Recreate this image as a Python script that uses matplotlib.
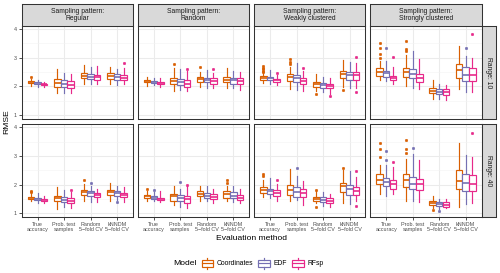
import matplotlib
matplotlib.use("Agg")
import matplotlib.pyplot as plt
from matplotlib.patches import Rectangle, Patch
from matplotlib.lines import Line2D
from matplotlib.legend_handler import HandlerBase

plt.rcParams['font.family'] = ['Liberation Sans', 'DejaVu Sans']

# ---------------- data ----------------
methods = ["True\naccuracy", "Prob. test\nsamples", "Random\n5\u2212fold CV", "kNNDM\n5\u2212fold CV"]
models = ["Coordinates", "EDF", "RFsp"]
colors = ["#D95F02", "#7570B3", "#E7298A"]
patterns = ["Sampling pattern:\nRegular", "Sampling pattern:\nRandom",
            "Sampling pattern:\nWeakly clustered", "Sampling pattern:\nStrongly clustered"]
ranges = ["Range: 10", "Range: 40"]

# each stat: rows = methods, cols = models (Coordinates, EDF, RFsp)
# Range 10 / Regular
reg10_med = [[2.15, 2.12, 2.07], [2.12, 2.09, 2.05], [2.37, 2.34, 2.33], [2.36, 2.34, 2.30]]
reg10_q1 = [[2.12, 2.09, 2.05], [1.99, 1.99, 1.95], [2.28, 2.26, 2.24], [2.26, 2.24, 2.22]]
reg10_q3 = [[2.18, 2.15, 2.10], [2.26, 2.22, 2.19], [2.45, 2.42, 2.40], [2.45, 2.42, 2.40]]
reg10_lo = [[2.03, 1.98, 1.97], [1.76, 1.76, 1.76], [2.10, 2.07, 2.07], [2.10, 2.05, 2.07]]
reg10_hi = [[2.25, 2.22, 2.15], [2.59, 2.48, 2.43], [2.74, 2.69, 2.70], [2.69, 2.60, 2.63]]
reg10_out = {(0, 0): [2.32], (3, 2): [2.83]}

# Range 10 / Random
ran10_med = [[2.20, 2.17, 2.13], [2.20, 2.16, 2.10], [2.26, 2.23, 2.19], [2.24, 2.22, 2.19]]
ran10_q1 = [[2.16, 2.13, 2.10], [2.07, 2.05, 1.99], [2.16, 2.14, 2.10], [2.14, 2.10, 2.07]]
ran10_q3 = [[2.24, 2.20, 2.17], [2.31, 2.26, 2.22], [2.33, 2.31, 2.28], [2.33, 2.30, 2.28]]
ran10_lo = [[2.03, 2.05, 1.98], [1.84, 1.86, 1.84], [1.97, 1.95, 1.93], [1.93, 1.93, 1.87]]
ran10_hi = [[2.32, 2.30, 2.28], [2.65, 2.60, 2.55], [2.51, 2.57, 2.45], [2.63, 2.53, 2.51]]
ran10_out = {(1, 0): [2.78], (1, 2): [2.60], (2, 0): [2.66], (2, 2): [2.62]}

# Range 10 / Weakly clustered
wea10_med = [[2.30, 2.28, 2.21], [2.33, 2.28, 2.19], [2.08, 2.05, 2.02], [2.42, 2.40, 2.40]]
wea10_q1 = [[2.24, 2.22, 2.16], [2.19, 2.14, 2.07], [1.99, 1.95, 1.93], [2.28, 2.24, 2.22]]
wea10_q3 = [[2.35, 2.33, 2.27], [2.42, 2.40, 2.30], [2.16, 2.13, 2.10], [2.55, 2.51, 2.49]]
wea10_lo = [[2.12, 2.10, 2.04], [1.91, 1.87, 1.84], [1.84, 1.81, 1.75], [1.99, 1.95, 1.93]]
wea10_hi = [[2.45, 2.57, 2.38], [2.69, 2.80, 2.55], [2.43, 2.34, 2.28], [2.92, 2.86, 2.80]]
wea10_out = {(0, 0): [2.50, 2.55, 2.60, 2.65, 2.70], (0, 2): [2.46],
             (1, 0): [2.77, 2.86, 2.94], (1, 2): [2.63],
             (2, 0): [1.73], (2, 2): [1.67],
             (3, 0): [1.88], (3, 2): [3.02, 1.81]}

# Range 10 / Strongly clustered
str10_med = [[2.51, 2.45, 2.30], [2.51, 2.43, 2.31], [1.85, 1.81, 1.79], [2.57, 2.40, 2.40]]
str10_q1 = [[2.37, 2.34, 2.22], [2.34, 2.28, 2.16], [1.76, 1.72, 1.70], [2.31, 2.20, 2.20]]
str10_q3 = [[2.63, 2.55, 2.37], [2.65, 2.60, 2.44], [1.95, 1.91, 1.90], [2.77, 2.66, 2.65]]
str10_lo = [[2.24, 2.20, 2.08], [2.01, 1.93, 1.91], [1.56, 1.56, 1.52], [1.91, 1.81, 1.81]]
str10_hi = [[2.88, 2.88, 2.69], [3.09, 3.23, 2.95], [2.22, 2.07, 2.05], [3.41, 3.05, 3.00]]
str10_out = {(0, 0): [2.98, 3.13, 3.35, 3.50], (0, 1): [3.33], (0, 2): [3.03],
             (1, 0): [3.23, 3.29, 3.58], (3, 1): [3.33], (3, 2): [3.81]}

# Range 40 / Regular
reg40_med = [[1.53, 1.50, 1.47], [1.54, 1.48, 1.44], [1.73, 1.70, 1.63], [1.73, 1.70, 1.63]]
reg40_q1 = [[1.49, 1.46, 1.43], [1.42, 1.39, 1.36], [1.64, 1.60, 1.58], [1.63, 1.60, 1.57]]
reg40_q3 = [[1.57, 1.54, 1.50], [1.62, 1.58, 1.54], [1.80, 1.77, 1.72], [1.80, 1.77, 1.72]]
reg40_lo = [[1.42, 1.35, 1.37], [1.16, 1.21, 1.19], [1.44, 1.41, 1.41], [1.42, 1.47, 1.39]]
reg40_hi = [[1.70, 1.70, 1.59], [1.91, 1.80, 1.74], [2.03, 1.97, 1.86], [2.05, 1.94, 1.91]]
reg40_out = {(0, 0): [1.74, 1.78], (1, 2): [1.80], (2, 0): [2.15], (2, 1): [2.05], (3, 1): [1.38]}

# Range 40 / Random
ran40_med = [[1.59, 1.55, 1.51], [1.59, 1.54, 1.49], [1.68, 1.61, 1.56], [1.68, 1.62, 1.55]]
ran40_q1 = [[1.54, 1.50, 1.47], [1.44, 1.42, 1.37], [1.59, 1.54, 1.49], [1.54, 1.53, 1.47]]
ran40_q3 = [[1.63, 1.59, 1.55], [1.68, 1.63, 1.59], [1.77, 1.71, 1.66], [1.78, 1.73, 1.65]]
ran40_lo = [[1.44, 1.44, 1.40], [1.30, 1.23, 1.19], [1.44, 1.44, 1.35], [1.42, 1.39, 1.35]]
ran40_hi = [[1.78, 1.74, 1.77], [1.95, 1.85, 1.94], [1.97, 1.97, 1.85], [1.97, 1.94, 1.85]]
ran40_out = {(0, 0): [1.85], (0, 1): [1.82], (1, 1): [2.09], (1, 2): [2.00], (3, 0): [2.07, 2.15]}

# Range 40 / Weakly clustered
wea40_med = [[1.82, 1.77, 1.71], [1.82, 1.75, 1.70], [1.51, 1.47, 1.44], [1.94, 1.85, 1.77]]
wea40_q1 = [[1.72, 1.68, 1.62], [1.65, 1.58, 1.58], [1.44, 1.41, 1.37], [1.74, 1.65, 1.65]]
wea40_q3 = [[1.91, 1.85, 1.80], [2.00, 1.91, 1.85], [1.58, 1.56, 1.54], [2.05, 2.00, 1.91]]
wea40_lo = [[1.56, 1.54, 1.44], [1.44, 1.47, 1.30], [1.35, 1.27, 1.23], [1.35, 1.33, 1.44]]
wea40_hi = [[2.15, 2.24, 2.03], [2.56, 2.32, 2.12], [1.78, 1.74, 1.68], [2.50, 2.48, 2.26]]
wea40_out = {(0, 0): [2.30, 2.36], (0, 2): [2.17], (1, 1): [2.59], (2, 0): [1.21, 1.83],
             (3, 0): [2.59], (3, 2): [2.48, 1.27]}

# Range 40 / Strongly clustered
str40_med = [[2.18, 2.10, 2.01], [2.15, 2.04, 2.01], [1.37, 1.33, 1.30], [2.12, 2.05, 2.01]]
str40_q1 = [[2.01, 1.94, 1.85], [1.91, 1.85, 1.80], [1.30, 1.27, 1.23], [1.85, 1.77, 1.77]]
str40_q3 = [[2.36, 2.24, 2.15], [2.36, 2.26, 2.21], [1.44, 1.40, 1.40], [2.52, 2.36, 2.33]]
str40_lo = [[1.68, 1.62, 1.68], [1.42, 1.44, 1.39], [1.19, 1.15, 1.19], [1.23, 1.33, 1.35]]
str40_hi = [[2.68, 2.70, 2.62], [2.91, 3.08, 2.87], [1.60, 1.51, 1.49], [3.46, 3.03, 2.97]]
str40_out = {(0, 0): [2.97, 3.26, 3.46], (0, 1): [2.87, 3.18], (0, 2): [2.79],
             (1, 0): [3.09, 3.26, 3.55], (1, 1): [3.28], (2, 0): [1.12], (2, 1): [1.07],
             (3, 2): [3.79]}

panels = [
    [(reg10_med, reg10_q1, reg10_q3, reg10_lo, reg10_hi, reg10_out),
     (ran10_med, ran10_q1, ran10_q3, ran10_lo, ran10_hi, ran10_out),
     (wea10_med, wea10_q1, wea10_q3, wea10_lo, wea10_hi, wea10_out),
     (str10_med, str10_q1, str10_q3, str10_lo, str10_hi, str10_out)],
    [(reg40_med, reg40_q1, reg40_q3, reg40_lo, reg40_hi, reg40_out),
     (ran40_med, ran40_q1, ran40_q3, ran40_lo, ran40_hi, ran40_out),
     (wea40_med, wea40_q1, wea40_q3, wea40_lo, wea40_hi, wea40_out),
     (str40_med, str40_q1, str40_q3, str40_lo, str40_hi, str40_out)],
]

# ---------------- layout ----------------
W, H = 500, 273
fig = plt.figure(figsize=(W / 100, H / 100), dpi=100)
fig.patch.set_facecolor("white")


def fx(px):
    return px / W


def fy(py):
    return 1 - py / H


col_left = [21.7, 137.9, 254.1, 370.3]
pw = 111.3
row_top = [26.0, 124.3]
ph = 93.0
strip_top = 4.3
strip_right_w = 14.2

border_c = "#333333"
border_lw = 0.75
grid_c = "#EBEBEB"
dodge = [-0.25, 0.0, 0.25]
bw = 0.245
lw = 0.85

for r in range(2):
    for c in range(4):
        ax = fig.add_axes([fx(col_left[c]), fy(row_top[r] + ph), pw / W, ph / H])
        ax.set_xlim(0.4, 4.6)
        ax.set_ylim(0.864, 4.105)
        ax.set_yticks([1, 2, 3, 4])
        ax.set_yticks([1.5, 2.5, 3.5], minor=True)
        ax.set_xticks(range(1, len(methods) + 1))
        ax.grid(True, which="major", color=grid_c, lw=0.75, zorder=0)
        ax.grid(True, which="minor", axis="y", color="#F3F3F3", lw=0.4, zorder=0)
        ax.set_axisbelow(True)
        for s in ax.spines.values():
            s.set_color(border_c)
            s.set_linewidth(border_lw)
            s.set_zorder(5)
        ax.tick_params(which="minor", length=0)
        ax.tick_params(which="major", length=2.0, width=0.6, color=border_c,
                       labelsize=3.9, labelcolor="#4D4D4D", pad=1.6)
        if c > 0:
            ax.tick_params(axis="y", length=0, labelleft=False)
        if r == 0:
            ax.tick_params(axis="x", length=0, labelbottom=False)
        else:
            ax.set_xticklabels(methods, linespacing=0.95)

        med, q1, q3, lo, hi, outs = panels[r][c]
        for j, model in enumerate(models):
            stats = []
            pos = []
            for i in range(len(methods)):
                stats.append(dict(med=med[i][j], q1=q1[i][j], q3=q3[i][j],
                                  whislo=lo[i][j], whishi=hi[i][j],
                                  fliers=outs.get((i, j), [])))
                pos.append(i + 1 + dodge[j])
            col = colors[j]
            ax.bxp(stats, positions=pos, widths=bw, showcaps=False, patch_artist=True,
                   manage_ticks=False,
                   boxprops=dict(facecolor="white", edgecolor=col, linewidth=lw),
                   medianprops=dict(color=col, linewidth=1.2),
                   whiskerprops=dict(color=col, linewidth=lw),
                   flierprops=dict(marker="o", markersize=1.9, markerfacecolor=col,
                                   markeredgecolor=col, markeredgewidth=0.3))

        # top strip
        if r == 0:
            sax = fig.add_axes([fx(col_left[c]), fy(row_top[0]), pw / W,
                                (row_top[0] - strip_top) / H])
            sax.set_facecolor("#D9D9D9")
            sax.set_xticks([])
            sax.set_yticks([])
            for s in sax.spines.values():
                s.set_color(border_c)
                s.set_linewidth(border_lw)
            sax.text(0.5, 0.5, patterns[c], ha="center", va="center", fontsize=4.9,
                     color="#1A1A1A", linespacing=1.0, transform=sax.transAxes)
        # right strip
        if c == 3:
            rax = fig.add_axes([fx(col_left[3] + pw), fy(row_top[r] + ph),
                                strip_right_w / W, ph / H])
            rax.set_facecolor("#D9D9D9")
            rax.set_xticks([])
            rax.set_yticks([])
            for s in rax.spines.values():
                s.set_color(border_c)
                s.set_linewidth(border_lw)
            rax.text(0.5, 0.5, ranges[r], ha="center", va="center", rotation=-90,
                     fontsize=4.9, color="#1A1A1A", transform=rax.transAxes)

# axis titles
fig.text(fx(7.0), fy((row_top[0] + row_top[1] + ph) / 2), "RMSE", rotation=90,
         ha="center", va="center", fontsize=6.1)
fig.text(fx((col_left[0] + col_left[3] + pw) / 2), fy(238.5), "Evaluation method",
         ha="center", va="center", fontsize=6.1)


# legend
class BoxKey(HandlerBase):
    def create_artists(self, legend, orig_handle, xdescent, ydescent, width, height,
                       fontsize, trans):
        c = orig_handle.get_edgecolor()
        x0, y0 = -xdescent, -ydescent
        bx0, bx1 = x0 + width * 0.08, x0 + width * 0.92
        by0, by1 = y0 + height * 0.18, y0 + height * 0.82
        rect = Rectangle((bx0, by0), bx1 - bx0, by1 - by0, facecolor="white",
                         edgecolor=c, lw=lw, transform=trans)
        medl = Line2D([bx0, bx1], [(by0 + by1) / 2] * 2, color=c, lw=lw, transform=trans)
        w1 = Line2D([x0 + width / 2] * 2, [y0 - height * 0.05, by0], color=c, lw=lw,
                    transform=trans)
        w2 = Line2D([x0 + width / 2] * 2, [by1, y0 + height * 1.05], color=c, lw=lw,
                    transform=trans)
        return [rect, medl, w1, w2]


handles = [Patch(facecolor="white", edgecolor=col) for col in colors]
fig.text(fx(173.0), fy(263.3), "Model", ha="left", va="center", fontsize=6.1)
fig.legend(handles, models, handler_map={Patch: BoxKey()}, ncol=3, frameon=False,
           loc="center left", bbox_to_anchor=(fx(200.5), fy(263.3)),
           fontsize=4.9, handlelength=1.95, handleheight=1.9, handletextpad=0.45,
           columnspacing=0.6, borderpad=0, borderaxespad=0)

fig.savefig("out.png", dpi=100, facecolor="white")
